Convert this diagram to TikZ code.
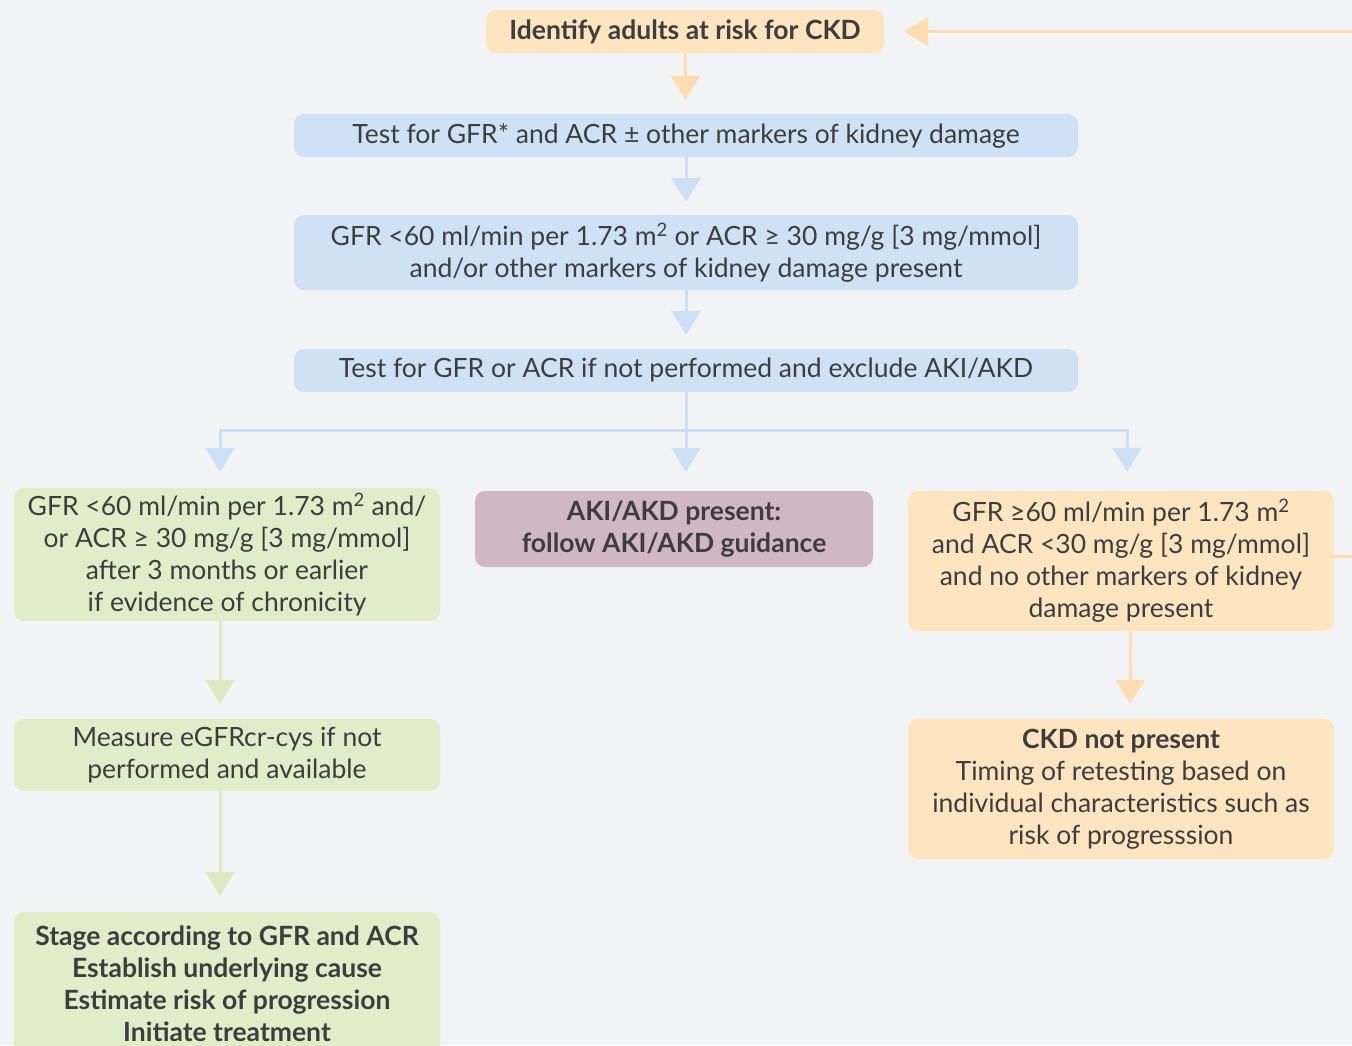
\documentclass[tikz,border=0pt]{standalone}
\usepackage{fontspec}
\setmainfont{Lato}
\usetikzlibrary{arrows.meta}
\definecolor{bg}{HTML}{F2F3F5}
\definecolor{ofill}{HTML}{FFE4C0}
\definecolor{oline}{HTML}{FFDDB0}
\definecolor{bfill}{HTML}{CFE2F5}
\definecolor{bline}{HTML}{CCE0F5}
\definecolor{gfill}{HTML}{E1EDC9}
\definecolor{gline}{HTML}{DCEAC2}
\definecolor{pfill}{HTML}{D0B7C4}
\definecolor{txt}{HTML}{3D3D3D}
\newcommand\fsz{\fontsize{26.5}{32}\selectfont}
\tikzset{
  box/.style={rounded corners=10pt, align=center, text=txt, inner sep=0pt,
    font=\fsz},
  boldtext/.style={font=\fsz\bfseries},
  obox/.style={box, fill=ofill},
  bbox/.style={box, fill=bfill},
  gbox/.style={box, fill=gfill},
  pbox/.style={box, fill=pfill},
  conn/.style={line width=3pt, -{Triangle[width=29pt,length=24pt]}},
  oarr/.style={conn, draw=oline},
  barr/.style={conn, draw=bline},
  garr/.style={conn, draw=gline},
  bplain/.style={line width=3pt, draw=bline},
}
\begin{document}
\begin{tikzpicture}[x=1pt, y=-1pt]
\fill[bg] (0,0) rectangle (1352,1045);
\useasboundingbox (0,0) rectangle (1352,1045);
\clip (0,0) rectangle (1352,1045);

\node[obox, boldtext, minimum width=398pt, minimum height=43pt] (n1) at (685,31.5) {Identify adults at risk for CKD};
\node[bbox, minimum width=784pt, minimum height=43pt] (n2) at (686,135.5) {Test for GFR* and ACR ± other markers of kidney damage};
\node[bbox, minimum width=784pt, minimum height=75pt] (n3) at (686,252.5) {GFR <60 ml/min per 1.73 m\textsuperscript{2} or ACR ≥ 30 mg/g [3 mg/mmol]\\and/or other markers of kidney damage present};
\node[bbox, minimum width=784pt, minimum height=43pt] (n4) at (686,370.5) {Test for GFR or ACR if not performed and exclude AKI/AKD};
\node[gbox, minimum width=426pt, minimum height=133pt] (n5) at (227,554.5) {GFR <60 ml/min per 1.73 m\textsuperscript{2} and/\\or ACR ≥ 30 mg/g [3 mg/mmol]\\after 3 months or earlier\\if evidence of chronicity};
\node[pbox, boldtext, minimum width=398pt, minimum height=76pt] (n6) at (674,529) {AKI/AKD present:\\follow AKI/AKD guidance};
\node[obox, minimum width=426pt, minimum height=140pt] (n7) at (1121,561) {GFR ≥60 ml/min per 1.73 m\textsuperscript{2}\\and ACR <30 mg/g [3 mg/mmol]\\and no other markers of kidney\\damage present};
\node[gbox, minimum width=426pt, minimum height=72pt] (n8) at (227,755) {Measure eGFRcr-cys if not\\performed and available};
\node[gbox, boldtext, minimum width=426pt, minimum height=143pt] (n9) at (227,983.5) {Stage according to GFR and ACR\\Establish underlying cause\\Estimate risk of progression\\Initiate treatment};
\node[obox, minimum width=426pt, minimum height=140pt] (n10) at (1121,789) {\textbf{CKD not present}\\Timing of retesting based on\\individual characteristics such as\\risk of progresssion};

\coordinate (sp) at (686,430);
\draw[oarr, shorten >=14pt] (n1) -- (n2);
\draw[barr, shorten >=13pt] (n2) -- (n3);
\draw[barr, shorten >=14pt] (n3) -- (n4);
\draw[bplain] (n4.south) -- (sp);
\draw[barr, shorten >=19pt] (sp) -- (sp |- n6.north);
\draw[barr, shorten >=16pt] (sp) -| ([xshift=-7pt]n5.north);
\draw[barr, shorten >=19pt] (sp) -| ([xshift=6pt]n7.north);
\draw[garr, shorten >=15pt] ([xshift=-7pt]n5.south) -- ([xshift=-7pt]n8.north);
\draw[garr, shorten >=16pt] ([xshift=-7pt]n8.south) -- ([xshift=-7pt]n9.north);
\draw[oarr, shorten >=15pt] ([xshift=9pt]n7.south) -- ([xshift=9pt]n10.north);
\draw[oarr, shorten >=20pt] ([yshift=5pt]n7.east) -- ++(46,0) |- (n1.east);
\end{tikzpicture}
\end{document}
